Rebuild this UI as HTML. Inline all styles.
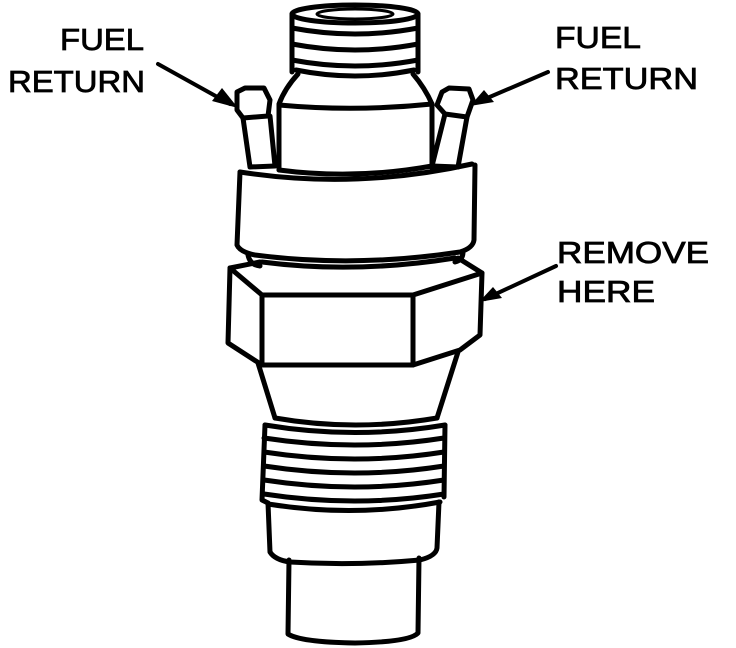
<!DOCTYPE html>
<html><head><style>
html,body{margin:0;padding:0;background:#fff;}
svg{display:block;}
text{font-family:"Liberation Sans",sans-serif;font-size:31px;fill:#000;stroke:#000;stroke-width:0.8;}
</style></head><body>
<svg width="736" height="648" viewBox="0 0 736 648" xmlns="http://www.w3.org/2000/svg">
<g fill="none" stroke="#000" stroke-width="5" stroke-linecap="round" stroke-linejoin="round">
<!-- top threads -->
<ellipse cx="355" cy="14" rx="63" ry="9"/>
<ellipse cx="355" cy="14" rx="38" ry="5" stroke-width="3"/>
<path d="M292 14 L292 72 M418 14 L418 72"/>
<path d="M292 28 Q355 40 418 28 M292 44 Q355 56 418 44 M292 60 Q355 72 418 60 M296 70 Q355 82 414 70"/>
<!-- neck and body -->
<path d="M298 74 Q285 88 279 104 L279 170 M413 74 Q425 88 432 104 L432 168"/>
<path d="M279 105 Q355 112 432 104"/>
<path d="M279 170 Q355 180 432 166"/>
<!-- left tube -->
<path d="M237 92 L245 88 L264 88 L270 100 L268 116 L243 118 L237 110 Z"/>
<path d="M243 118 L250 167 L275 166 L270 116"/>
<!-- right tube -->
<path d="M442 92 L449 88 L469 89 L473 100 L467 117 L445 114 L437 105 Z"/>
<path d="M445 114 L432 166 L458 167 L467 117"/>
<!-- collar -->
<path d="M240 172 Q355 190 472 164"/>
<path d="M240 172 L237 245 Q240 252 255 255 Q355 268 460 252 Q473 248 474 240 L475 165"/>
<path d="M248 255 Q250 265 260 266 M463 252 Q463 260 455 262"/>
<!-- hex -->
<path d="M260 262 L230 268 L228 343 L262 365 L413 365 L460 350 L480 335 L482 273 L458 258"/>
<path d="M230 268 L262 295 L413 295 L482 273"/>
<path d="M262 295 L262 365 M413 295 L413 365"/>
<path d="M262 262 Q355 274 455 258"/>
<!-- cone -->
<path d="M258 363 L275 418 M458 352 L437 418"/>
<path d="M275 418 Q355 432 437 418"/>
<!-- threads -->
<path d="M265 425 Q355 440 445 425 M264 438 Q355 452 444 438 M264 452 Q355 466 444 452 M264 466 Q355 480 444 466 M264 480 Q355 494 444 480 M264 494 Q355 508 444 494 M268 504 Q355 518 440 502"/>
<path d="M265 425 L262 500 L268 503 M445 425 L444 497"/>
<!-- barrel -->
<path d="M268 503 L270 552 Q275 560 290 562 Q355 566 420 560 Q436 556 437 548 L439 502"/>
<!-- tip -->
<path d="M289 560 L288 634 Q300 642 355 643 Q410 642 418 633 L419 558"/>
<!-- arrows -->
<path d="M158 64 L230 104 M548 72 L478 102 M556 266 L485 299" stroke-width="4"/>
</g>
<g fill="#000">
<polygon points="238,108 212,101 222,88"/>
<polygon points="470,106 484,90 494,102"/>
<polygon points="479,302 493,287 502,298"/>
</g>
<text x="60" y="50" textLength="84" lengthAdjust="spacingAndGlyphs">FUEL</text>
<text x="8" y="92" textLength="137" lengthAdjust="spacingAndGlyphs">RETURN</text>
<text x="555" y="48" textLength="86" lengthAdjust="spacingAndGlyphs">FUEL</text>
<text x="555" y="89" textLength="143" lengthAdjust="spacingAndGlyphs">RETURN</text>
<text x="557" y="263" textLength="152" lengthAdjust="spacingAndGlyphs">REMOVE</text>
<text x="557" y="302" textLength="98" lengthAdjust="spacingAndGlyphs">HERE</text>
</svg>
</body></html>
